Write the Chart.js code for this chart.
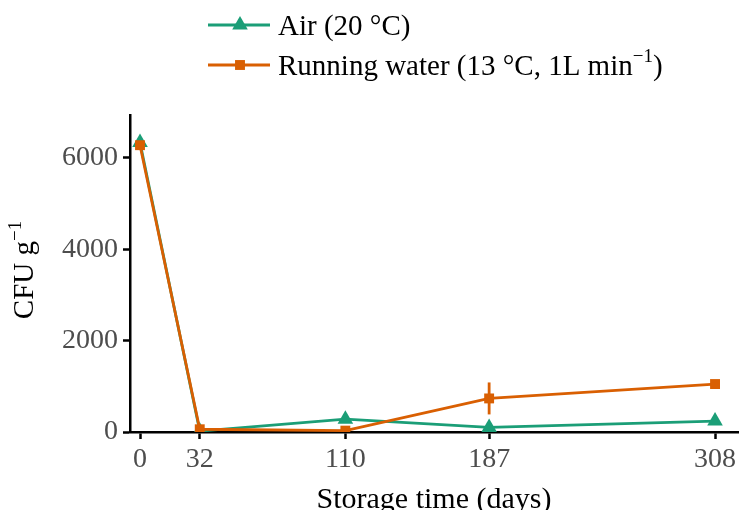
<!DOCTYPE html>
<html>
<head>
<meta charset="utf-8">
<script src="https://cdn.jsdelivr.net/npm/chart.js@4.4.1/dist/chart.umd.min.js"></script>
<style>
  html, body { margin: 0; padding: 0; background: #fff; }
</style>
</head>
<body>
<canvas id="grafico" width="739" height="510"></canvas>
<script>
// datos
const dias = [0, 32, 110, 187, 308];
const aire = [6340, 20, 280, 100, 240];
const agua = [6280, 60, 30, 735, 1050];
const aguaError = [0, 0, 0, 350, 0];
const ticksX = [0, 32, 110, 187, 308];
const ticksY = [0, 2000, 4000, 6000];

const VERDE = "#1b9e77";
const NARANJA = "#d95f02";
const FUENTE = "'Liberation Serif', 'Times New Roman', serif";

// barras de error, leyenda y título del eje y dibujados a mano
const extras = {
  id: "extras",
  beforeDatasetsDraw(chart) {
    const ctx = chart.ctx;
    const xs = chart.scales.x;
    const ys = chart.scales.y;
    ctx.save();
    ctx.strokeStyle = NARANJA;
    ctx.lineWidth = 2.8;
    dias.forEach((d, i) => {
      if (!aguaError[i]) return;
      const px = xs.getPixelForValue(d);
      ctx.beginPath();
      ctx.moveTo(px, ys.getPixelForValue(agua[i] - aguaError[i]));
      ctx.lineTo(px, ys.getPixelForValue(agua[i] + aguaError[i]));
      ctx.stroke();
    });
    ctx.restore();
  },
  afterDraw(chart) {
    const ctx = chart.ctx;
    ctx.save();
    const items = [
      { color: VERDE, forma: "triangle", y: 25 },
      { color: NARANJA, forma: "rect", y: 65 },
    ];
    items.forEach((it) => {
      ctx.strokeStyle = it.color;
      ctx.fillStyle = it.color;
      ctx.lineWidth = 2.8;
      ctx.beginPath();
      ctx.moveTo(208, it.y);
      ctx.lineTo(270, it.y);
      ctx.stroke();
      Chart.helpers.drawPoint(ctx, { pointStyle: it.forma, radius: it.forma === "rect" ? 7 : 9, borderWidth: 0 }, 240, it.y);
    });
    ctx.fillStyle = "#000";
    ctx.textBaseline = "alphabetic";
    ctx.textAlign = "left";
    ctx.font = "29px " + FUENTE;
    ctx.fillText("Air (20 °C)", 278, 35);
    let x = 278;
    const t1 = "Running water (13 °C, 1L min";
    ctx.fillText(t1, x, 75);
    x += ctx.measureText(t1).width;
    ctx.font = "19px " + FUENTE;
    ctx.fillText("\u22121", x, 62);
    x += ctx.measureText("\u22121").width;
    ctx.font = "29px " + FUENTE;
    ctx.fillText(")", x, 75);

    // título del eje y
    ctx.translate(33, 270);
    ctx.rotate(-Math.PI / 2);
    ctx.font = "29px " + FUENTE;
    const a = "CFU g";
    const wa = ctx.measureText(a).width;
    ctx.font = "19px " + FUENTE;
    const ws = ctx.measureText("\u22121").width;
    const x0 = -(wa + ws) / 2;
    ctx.font = "29px " + FUENTE;
    ctx.fillText(a, x0, 0);
    ctx.font = "19px " + FUENTE;
    ctx.fillText("\u22121", x0 + wa, -12);
    ctx.restore();
  },
};

new Chart(document.getElementById("grafico"), {
  type: "line",
  data: {
    datasets: [
      {
        label: "Running water (13 °C, 1L min⁻¹)",
        data: dias.map((d, i) => ({ x: d, y: agua[i] })),
        borderColor: NARANJA,
        backgroundColor: NARANJA,
        borderWidth: 2.8,
        pointStyle: "rect",
        pointRadius: 7,
        pointBorderWidth: 0,
        order: 0,
      },
      {
        label: "Air (20 °C)",
        data: dias.map((d, i) => ({ x: d, y: aire[i] })),
        borderColor: VERDE,
        backgroundColor: VERDE,
        borderWidth: 2.8,
        pointStyle: "triangle",
        pointRadius: 9,
        pointBorderWidth: 0,
        order: 1,
      },
    ],
  },
  options: {
    responsive: false,
    animation: false,
    devicePixelRatio: 1,
    layout: { autoPadding: false, padding: { top: 115, right: 1, left: 0, bottom: 0 } },
    plugins: { legend: { display: false }, tooltip: { enabled: false } },
    scales: {
      x: {
        type: "linear",
        min: -5.36,
        max: 320.3,
        afterBuildTicks: (s) => { s.ticks = ticksX.map((v) => ({ value: v })); },
        afterFit: (s) => { s.height = 78; s.paddingLeft = 0; s.paddingRight = 0; },
        grid: { drawOnChartArea: false, color: "#000", tickLength: 7, tickWidth: 2.5 },
        border: { color: "#000", width: 2.5 },
        ticks: { color: "#4d4d4d", padding: 4, font: { family: FUENTE, size: 28 } },
        title: {
          display: true,
          text: "Storage time (days)",
          color: "#000",
          padding: { top: 0, bottom: -5 },
          font: { family: FUENTE, size: 30, lineHeight: 1 },
        },
      },
      y: {
        min: 0,
        max: 6941,
        afterBuildTicks: (s) => { s.ticks = ticksY.map((v) => ({ value: v })); },
        afterFit: (s) => { s.width = 130; s.paddingTop = 0; s.paddingBottom = 0; },
        grid: { drawOnChartArea: false, color: "#000", tickLength: 7, tickWidth: 2.5 },
        border: { color: "#000", width: 2.5 },
        ticks: {
          color: "#4d4d4d",
          padding: 5,
          font: { family: FUENTE, size: 28 },
          callback: (v) => String(v),
        },
      },
    },
  },
  plugins: [extras],
});
</script>
</body>
</html>
